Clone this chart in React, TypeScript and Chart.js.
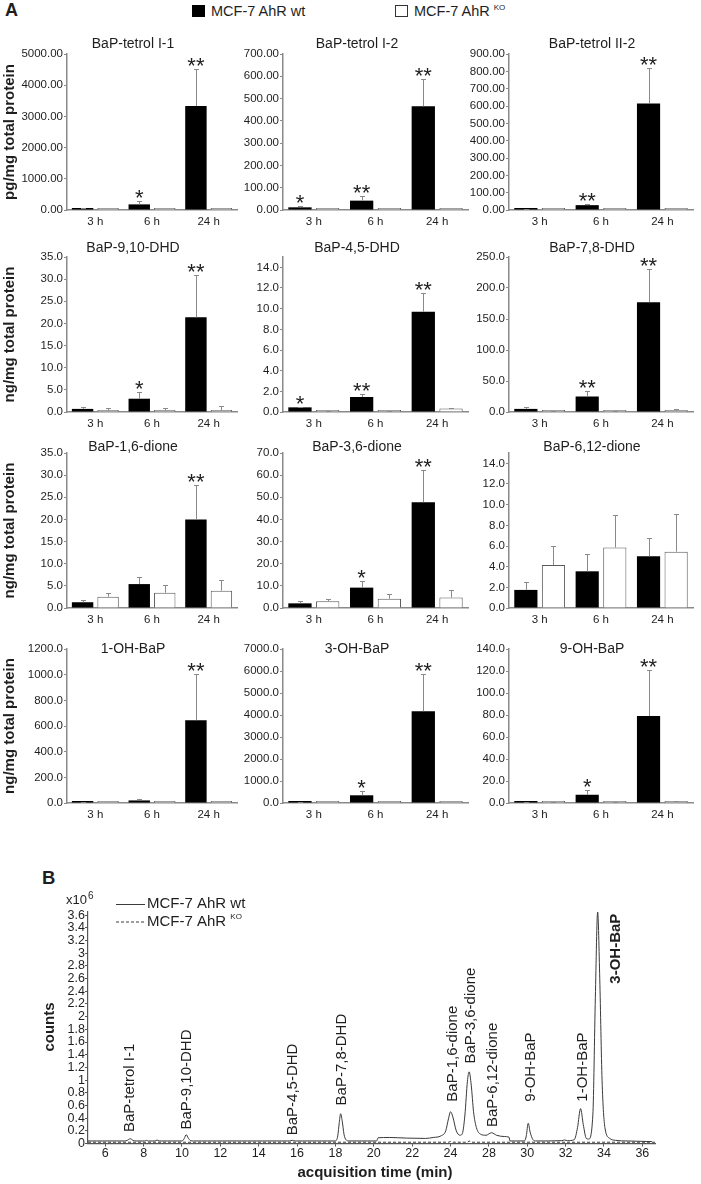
import React, { useEffect, useRef } from 'react';
import { Chart, registerables } from 'chart.js';

Chart.register(...registerables);

const FONT = '"Liberation Sans", Arial, Helvetica, sans-serif';
const TEXT = '#1e1e1e';
const AXIS = '#8a8a8a';
const TRACE = '#3a3a3a';

// ---------------- Panel A data ----------------
const TIMEPOINTS = ['3 h', '6 h', '24 h'];
const GROUPS = ['MCF-7 AhR wt', 'MCF-7 AhR KO'];
const METABOLITES = [
  'BaP-tetrol I-1', 'BaP-tetrol I-2', 'BaP-tetrol II-2',
  'BaP-9,10-DHD', 'BaP-4,5-DHD', 'BaP-7,8-DHD',
  'BaP-1,6-dione', 'BaP-3,6-dione', 'BaP-6,12-dione',
  '1-OH-BaP', '3-OH-BaP', '9-OH-BaP',
];
const Y_UNITS = ['pg/mg total protein', 'ng/mg total protein', 'ng/mg total protein', 'ng/mg total protein'];
const Y_MAX = [5000, 700, 900, 35, 15, 250, 35, 70, 15, 1200, 7000, 140];
const Y_STEP = [1000, 100, 100, 5, 2, 50, 5, 10, 2, 200, 1000, 20];
const Y_DECIMALS = [2, 2, 2, 1, 1, 1, 1, 1, 1, 1, 1, 1];

const WT_MEAN = [
  [55, 180, 3330],
  [12, 42, 465],
  [5, 28, 615],
  [0.7, 3.0, 21.4],
  [0.45, 1.45, 9.7],
  [5, 25, 177],
  [1.3, 5.4, 20.0],
  [2.1, 9.2, 47.8],
  [1.75, 3.55, 5.0],
  [3, 20, 645],
  [40, 350, 4170],
  [0.5, 7.5, 79],
];
const WT_SD = [
  [15, 95, 1200],
  [8, 22, 125],
  [2, 8, 205],
  [0.5, 1.5, 9.6],
  [0.08, 0.25, 1.85],
  [3, 9, 53],
  [0.6, 1.6, 7.8],
  [1.2, 2.9, 14.7],
  [0.75, 1.65, 1.75],
  [1, 14, 360],
  [15, 210, 1700],
  [0.2, 4.5, 42],
];
const KO_MEAN = [
  [25, 25, 25],
  [1.5, 1.5, 1.5],
  [2, 2, 2],
  [0.3, 0.3, 0.3],
  [0.05, 0.07, 0.35],
  [1, 1, 3],
  [2.55, 3.45, 3.9],
  [3.1, 4.2, 4.7],
  [4.15, 5.85, 5.45],
  [2, 3, 3],
  [30, 30, 30],
  [0.5, 0.5, 1.0],
];
const KO_SD = [
  [0, 0, 0],
  [0, 0, 0],
  [0, 0, 0],
  [0.7, 0.7, 1.1],
  [0.02, 0.03, 0.05],
  [0.5, 0.5, 1.5],
  [0.9, 1.8, 2.4],
  [1.0, 2.3, 3.3],
  [1.85, 3.15, 3.6],
  [0, 0, 0],
  [0, 0, 0],
  [0.1, 0.1, 0.4],
];
const SIGNIFICANCE = [
  ['', '*', '**'],
  ['*', '**', '**'],
  ['', '**', '**'],
  ['', '*', '**'],
  ['*', '**', '**'],
  ['', '**', '**'],
  ['', '', '**'],
  ['', '*', '**'],
  ['', '', ''],
  ['', '', '**'],
  ['', '*', '**'],
  ['', '*', '**'],
];

// ---------------- Panel B data ----------------
// positions on the plotted time axis (uniform 2-min grid); the printed labels skip "26"
const X_TICK_VALUES = [6, 8, 10, 12, 14, 16, 18, 20, 22, 24, 26, 28, 30, 32, 34];
const X_TICK_LABELS = ['6', '8', '10', '12', '14', '16', '18', '20', '22', '24', '28', '30', '32', '34', '36'];
const Y_TICK_VALUES = [0, 0.2, 0.4, 0.6, 0.8, 1, 1.2, 1.4, 1.6, 1.8, 2, 2.2, 2.4, 2.6, 2.8, 3, 3.2, 3.4, 3.6];
const WT_TRACE: [number, number][] = [
  [5.1, 0.04], [7.0, 0.04], [7.15, 0.05], [7.3, 0.075], [7.45, 0.05], [7.6, 0.04],
  [8.05, 0.04], [8.15, 0.05], [8.25, 0.04], [8.6, 0.04], [8.7, 0.055], [8.8, 0.04],
  [10.0, 0.04], [10.12, 0.08], [10.22, 0.14], [10.32, 0.09], [10.45, 0.045], [10.6, 0.04],
  [15.6, 0.04], [15.75, 0.05], [15.9, 0.04],
  [18.0, 0.04], [18.12, 0.12], [18.2, 0.33], [18.27, 0.47], [18.35, 0.36], [18.45, 0.14], [18.55, 0.06], [18.7, 0.04],
  [20.15, 0.04], [20.22, 0.09], [20.8, 0.095], [21.7, 0.085], [22.7, 0.08], [23.1, 0.095], [23.5, 0.12],
  [23.75, 0.2], [23.9, 0.4], [24.0, 0.5], [24.12, 0.42], [24.3, 0.2], [24.5, 0.13],
  [24.62, 0.16], [24.75, 0.45], [24.88, 0.98], [24.97, 1.13], [25.08, 0.92], [25.2, 0.5], [25.35, 0.25],
  [25.55, 0.15], [25.85, 0.13], [26.14, 0.17], [26.4, 0.13], [26.8, 0.11], [27.05, 0.1], [27.1, 0.04],
  [27.85, 0.04], [27.95, 0.12], [28.05, 0.32], [28.15, 0.18], [28.3, 0.06], [28.45, 0.04],
  [29.8, 0.045], [29.95, 0.055], [30.1, 0.045],
  [30.45, 0.06], [30.62, 0.25], [30.78, 0.55], [30.92, 0.3], [31.08, 0.08], [31.2, 0.07],
  [31.42, 0.45], [31.55, 2.3], [31.67, 3.65], [31.78, 2.6], [31.9, 1.0], [32.05, 0.25], [32.3, 0.08],
  [32.6, 0.05], [33.2, 0.04], [34.5, 0.03],
];
const KO_TRACE: [number, number][] = [
  [5.1, 0.02], [23.9, 0.02], [24.0, 0.03], [24.1, 0.02], [24.88, 0.02], [24.97, 0.04], [25.08, 0.02], [34.66, 0.02],
];
const PEAK_LABELS = [
  'BaP-tetrol I-1', 'BaP-9,10-DHD', 'BaP-4,5-DHD', 'BaP-7,8-DHD', 'BaP-1,6-dione',
  'BaP-3,6-dione', 'BaP-6,12-dione', '9-OH-BaP', '1-OH-BaP', '3-OH-BaP',
];
const PEAK_LABEL_TIME = [7.3, 10.23, 15.79, 18.31, 24.1, 25.04, 26.22, 28.17, 30.88, 32.6];
const PEAK_LABEL_BASE = [0.18, 0.22, 0.13, 0.6, 0.66, 1.26, 0.26, 0.66, 0.66, 2.52];

// ---------------- layout (page px) ----------------
const AXIS_X = [67, 283, 509];
const PLOT_RIGHT = [237, 468, 693];
const CANVAS_LEFT = [0, 226, 452];
const PLOT_TOP = [54, 257, 453, 649];
const PLOT_BOTTOM = [210, 412, 608, 803];
const TITLE_X = [133, 357, 592];
const TITLE_Y = [44, 248, 447, 649];
const PAD_TOP = 26;
const PAD_RIGHT = 6;
const X_AXIS_H = 28;

const CH_TOP = 888;
const CH_H = 1184 - CH_TOP;

function fixedTicks(values: number[]) {
  return (scale: any) => {
    scale.ticks = values.map((v) => ({ value: v }));
  };
}

function stepValues(max: number, step: number) {
  const out: number[] = [];
  const n = Math.floor(max / step + 1e-9);
  for (let i = 0; i <= n; i++) out.push(Number((i * step).toFixed(6)));
  return out;
}

function BarPanel({ index }: { index: number }) {
  const ref = useRef<HTMLCanvasElement | null>(null);
  const r = Math.floor(index / 3);
  const c = index % 3;
  const left = CANVAS_LEFT[c];
  const top = PLOT_TOP[r] - PAD_TOP;
  const width = PLOT_RIGHT[c] - left + PAD_RIGHT;
  const height = PLOT_BOTTOM[r] - PLOT_TOP[r] + PAD_TOP + X_AXIS_H;

  useEffect(() => {
    if (!ref.current) return;
    const means = [WT_MEAN[index], KO_MEAN[index]];
    const sds = [WT_SD[index], KO_SD[index]];
    const decor = {
      id: 'panelDecor' + index,
      afterDatasetsDraw(chart: any) {
        const ctx = chart.ctx;
        const ys = chart.scales.y;
        ctx.save();
        ctx.strokeStyle = AXIS;
        ctx.lineWidth = 1;
        for (let d = 0; d < 2; d++) {
          const meta = chart.getDatasetMeta(d);
          meta.data.forEach((bar: any, j: number) => {
            const e = sds[d][j];
            if (!e) return;
            const x = Math.round(bar.x) + 0.5;
            const yb = ys.getPixelForValue(means[d][j]);
            const yt = Math.round(ys.getPixelForValue(means[d][j] + e)) + 0.5;
            ctx.beginPath();
            ctx.moveTo(x, yb);
            ctx.lineTo(x, yt);
            ctx.moveTo(x - 2.5, yt);
            ctx.lineTo(x + 2.5, yt);
            ctx.stroke();
          });
        }
        ctx.fillStyle = TEXT;
        ctx.font = `22px ${FONT}`;
        ctx.textAlign = 'center';
        ctx.textBaseline = 'alphabetic';
        const wtMeta = chart.getDatasetMeta(0);
        SIGNIFICANCE[index].forEach((s, j) => {
          if (!s) return;
          const bar: any = wtMeta.data[j];
          const yt = ys.getPixelForValue(means[0][j] + sds[0][j]);
          ctx.fillText(s, bar.x, yt + 4);
        });
        ctx.font = `14px ${FONT}`;
        ctx.textBaseline = 'middle';
        ctx.fillText(METABOLITES[index], TITLE_X[c] - left, TITLE_Y[r] - top);
        if (c === 0) {
          const ca = chart.chartArea;
          ctx.save();
          ctx.translate(10, (ca.top + ca.bottom) / 2);
          ctx.rotate(-Math.PI / 2);
          ctx.font = `bold 15px ${FONT}`;
          ctx.textAlign = 'center';
          ctx.textBaseline = 'middle';
          ctx.fillText(Y_UNITS[r], 0, 0);
          ctx.restore();
        }
        ctx.restore();
      },
    };

    const chart = new Chart(ref.current, {
      type: 'bar',
      data: {
        labels: TIMEPOINTS,
        datasets: [
          {
            label: GROUPS[0],
            data: WT_MEAN[index],
            backgroundColor: '#000000',
            borderWidth: 0,
            categoryPercentage: 0.9,
            barPercentage: 0.84,
            minBarLength: 2,
          },
          {
            label: GROUPS[1],
            data: KO_MEAN[index],
            backgroundColor: '#ffffff',
            borderColor: '#5a5a5a',
            borderWidth: 1,
            categoryPercentage: 0.9,
            barPercentage: 0.84,
            minBarLength: 2,
          },
        ],
      },
      options: {
        responsive: false,
        animation: false,
        devicePixelRatio: 1,
        layout: { padding: { top: PAD_TOP, right: PAD_RIGHT, left: 0, bottom: 0 } },
        plugins: { legend: { display: false }, tooltip: { enabled: false }, title: { display: false } },
        scales: {
          x: {
            grid: { display: true, drawOnChartArea: false, drawTicks: false },
            border: { display: true, color: AXIS, width: 1.5 },
            ticks: { color: TEXT, font: { size: 11.5, family: FONT }, padding: 5, maxRotation: 0, autoSkip: false },
            afterFit: (s: any) => { s.height = X_AXIS_H; },
          },
          y: {
            min: 0,
            max: Y_MAX[index],
            grid: { display: true, drawOnChartArea: false, drawTicks: true, tickLength: 3, color: AXIS },
            border: { display: true, color: AXIS, width: 1.5 },
            ticks: {
              autoSkip: false,
              color: TEXT,
              font: { size: 11.5, family: FONT },
              padding: 1,
              callback: (v: any) => Number(v).toFixed(Y_DECIMALS[index]),
            },
            afterBuildTicks: fixedTicks(stepValues(Y_MAX[index], Y_STEP[index])),
            afterFit: (s: any) => { s.width = AXIS_X[c] - left; },
          },
        },
      } as any,
      plugins: [decor],
    });
    return () => chart.destroy();
  }, [index]);

  return (
    <canvas
      ref={ref}
      width={width}
      height={height}
      style={{ position: 'absolute', left, top, width, height }}
    />
  );
}

function Chromatogram() {
  const ref = useRef<HTMLCanvasElement | null>(null);
  useEffect(() => {
    if (!ref.current) return;
    const decor = {
      id: 'chromDecor',
      afterDraw(chart: any) {
        const { ctx } = chart;
        const xs = chart.scales.x;
        const ys = chart.scales.y;
        ctx.save();
        ctx.fillStyle = TEXT;
        PEAK_LABELS.forEach((name, k) => {
          const px = xs.getPixelForValue(PEAK_LABEL_TIME[k]);
          const py = ys.getPixelForValue(PEAK_LABEL_BASE[k]);
          ctx.save();
          ctx.translate(px, py);
          ctx.rotate(-Math.PI / 2);
          ctx.font = `${name === '3-OH-BaP' ? 'bold ' : ''}15px ${FONT}`;
          ctx.textAlign = 'left';
          ctx.textBaseline = 'middle';
          ctx.fillText(name, 0, 0);
          ctx.restore();
        });
        ctx.strokeStyle = TRACE;
        ctx.lineWidth = 1;
        const l1 = 904 - CH_TOP;
        const l2 = 921.5 - CH_TOP;
        ctx.beginPath();
        ctx.moveTo(116, l1 + 0.5);
        ctx.lineTo(145, l1 + 0.5);
        ctx.stroke();
        ctx.setLineDash([3, 2]);
        ctx.beginPath();
        ctx.moveTo(116, l2 + 0.5);
        ctx.lineTo(145, l2 + 0.5);
        ctx.stroke();
        ctx.setLineDash([]);
        ctx.font = `15px ${FONT}`;
        ctx.textAlign = 'left';
        ctx.textBaseline = 'middle';
        ctx.fillText(GROUPS[0], 147, l1);
        ctx.fillText('MCF-7 AhR', 147, l2);
        const w = ctx.measureText('MCF-7 AhR ').width;
        ctx.font = `8px ${FONT}`;
        ctx.fillText('KO', 147 + w, l2 - 5);
        ctx.textBaseline = 'alphabetic';
        ctx.font = `13px ${FONT}`;
        ctx.fillText('x10', 66, 904 - CH_TOP);
        ctx.font = `10px ${FONT}`;
        ctx.fillText('6', 88, 898.5 - CH_TOP);
        ctx.font = `bold 15px ${FONT}`;
        ctx.textAlign = 'center';
        ctx.textBaseline = 'middle';
        ctx.fillText('acquisition time (min)', 375, 1173 - CH_TOP);
        ctx.save();
        ctx.translate(50, 1027 - CH_TOP);
        ctx.rotate(-Math.PI / 2);
        ctx.fillText('counts', 0, 0);
        ctx.restore();
        ctx.restore();
      },
    };
    const chart = new Chart(ref.current, {
      type: 'line',
      data: {
        datasets: [
          {
            label: GROUPS[0],
            data: WT_TRACE.map(([x, y]) => ({ x, y })),
            borderColor: TRACE,
            borderWidth: 1,
            pointRadius: 0,
            cubicInterpolationMode: 'monotone',
            fill: false,
          },
          {
            label: GROUPS[1],
            data: KO_TRACE.map(([x, y]) => ({ x, y })),
            borderColor: TRACE,
            borderWidth: 1,
            borderDash: [3, 2],
            pointRadius: 0,
            fill: false,
          },
        ],
      },
      options: {
        responsive: false,
        animation: false,
        devicePixelRatio: 1,
        layout: { padding: { top: 912 - CH_TOP, right: 701 - 655, left: 0, bottom: 0 } },
        plugins: { legend: { display: false }, tooltip: { enabled: false } },
        scales: {
          x: {
            type: 'linear',
            min: 5.1,
            max: 34.66,
            grid: { display: true, drawOnChartArea: false, drawTicks: true, tickLength: 3, color: '#555' },
            border: { display: true, color: '#555', width: 1.2 },
            ticks: {
              autoSkip: false,
              maxRotation: 0,
              padding: 0,
              color: TEXT,
              font: { size: 12.5, family: FONT },
              callback: (v: any) => {
                const k = X_TICK_VALUES.indexOf(Math.round(Number(v)));
                return k >= 0 ? X_TICK_LABELS[k] : '';
              },
            },
            afterBuildTicks: fixedTicks(X_TICK_VALUES),
            afterFit: (s: any) => { s.height = CH_H - (1143.5 - CH_TOP); },
          },
          y: {
            min: 0,
            max: 3.65,
            grid: { display: true, drawOnChartArea: false, drawTicks: true, tickLength: 3, color: '#555' },
            border: { display: true, color: '#555', width: 1.2 },
            ticks: {
              autoSkip: false,
              padding: 0,
              color: TEXT,
              font: { size: 12.5, family: FONT },
              callback: (v: any) => String(Number(Number(v).toFixed(1))),
            },
            afterBuildTicks: fixedTicks(Y_TICK_VALUES),
            afterFit: (s: any) => { s.width = 88; },
          },
        },
      } as any,
      plugins: [decor],
    });
    return () => chart.destroy();
  }, []);
  return (
    <canvas
      ref={ref}
      width={701}
      height={CH_H}
      style={{ position: 'absolute', left: 0, top: CH_TOP, width: 701, height: CH_H }}
    />
  );
}

export default function App() {
  const text: React.CSSProperties = { position: 'absolute', fontFamily: FONT, color: TEXT, lineHeight: 1, whiteSpace: 'nowrap' };
  return (
    <div style={{ position: 'absolute', left: 0, top: 0, width: 701, height: 1184, background: '#fff', overflow: 'hidden' }}>
      <div style={{ ...text, left: 5, top: 1, fontSize: 18, fontWeight: 'bold' }}>A</div>
      <div style={{ position: 'absolute', left: 192, top: 5, width: 13, height: 12, background: '#000' }} />
      <div style={{ ...text, left: 211, top: 4, fontSize: 14.5 }}>{GROUPS[0]}</div>
      <div style={{ position: 'absolute', left: 395, top: 5, width: 11, height: 10, background: '#fff', border: '1px solid #333' }} />
      <div style={{ ...text, left: 414, top: 4, fontSize: 14.5 }}>
        MCF-7 AhR <span style={{ fontSize: 8, position: 'relative', top: -6 }}>KO</span>
      </div>
      {METABOLITES.map((_, i) => (
        <BarPanel key={i} index={i} />
      ))}
      <div style={{ ...text, left: 42, top: 869, fontSize: 18.5, fontWeight: 'bold' }}>B</div>
      <Chromatogram />
    </div>
  );
}
